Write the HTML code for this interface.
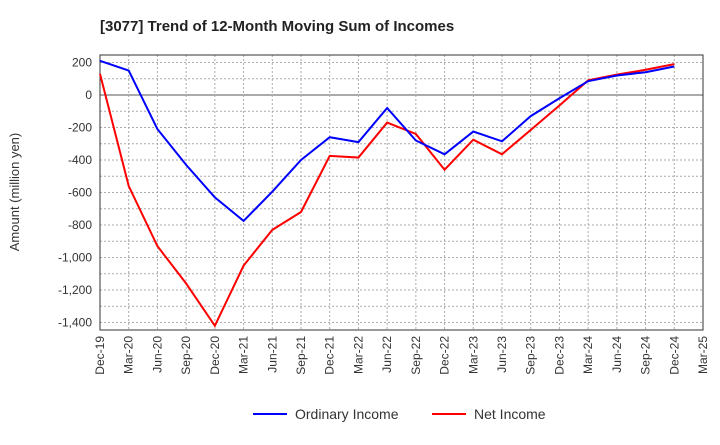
<!DOCTYPE html>
<html><head><meta charset="utf-8"><style>
body{margin:0;background:#fff;font-family:"Liberation Sans",sans-serif;}
</style></head><body>
<svg width="720" height="440" xmlns="http://www.w3.org/2000/svg" font-family="Liberation Sans, sans-serif">
<text x="100" y="31" font-size="15" font-weight="bold" fill="#222">[3077]  Trend of 12-Month Moving Sum of Incomes</text>
<g id="grid"></g>
<rect x="100" y="55" width="603" height="275" fill="none" stroke="#333" stroke-width="1"/>
<g id="axes"></g>
<g id="series"></g>
<text transform="translate(19,192) rotate(-90)" text-anchor="middle" font-size="13" fill="#333">Amount (million yen)</text>
<g>
<line x1="253" y1="414" x2="287" y2="414" stroke="#0000ff" stroke-width="2"/>
<text x="295" y="419" font-size="14" fill="#333">Ordinary Income</text>
<line x1="432" y1="414" x2="466" y2="414" stroke="#ff0000" stroke-width="2"/>
<text x="474" y="419" font-size="14" fill="#333">Net Income</text>
</g>
</svg>
<script>
const categories=["Dec-19","Mar-20","Jun-20","Sep-20","Dec-20","Mar-21","Jun-21","Sep-21","Dec-21","Mar-22","Jun-22","Sep-22","Dec-22","Mar-23","Jun-23","Sep-23","Dec-23","Mar-24","Jun-24","Sep-24","Dec-24","Mar-25"];
const ordinaryIncome=[210,150,-210,-430,-630,-775,-595,-400,-260,-290,-80,-280,-365,-225,-285,-130,-20,85,120,140,175];
const netIncome=[130,-560,-930,-1160,-1420,-1050,-830,-720,-375,-385,-170,-240,-460,-275,-365,-215,-65,90,125,155,190];
const yTicks=[200,0,-200,-400,-600,-800,-1000,-1200,-1400];
const NS="http://www.w3.org/2000/svg";
const L=100,R=703,T=55,B=330,yMax=246,yMin=-1446;
const x=i=>L+(R-L)*i/(categories.length-1);
const y=v=>T+(yMax-v)/(yMax-yMin)*(B-T);
function mk(tag,attrs,parent){const e=document.createElementNS(NS,tag);for(const k in attrs)e.setAttribute(k,attrs[k]);document.getElementById(parent).appendChild(e);return e;}
for(let v=200;v>=-1400;v-=100){
 const g=mk("line",{x1:L,x2:R,y1:y(v),y2:y(v),stroke:v===0?"#555":"#aaa","stroke-width":1,"stroke-dasharray":v===0?"":"2,2"},"grid");
 
 
}
categories.forEach((c,i)=>{
 const g=mk("line",{x1:x(i),x2:x(i),y1:T,y2:B,stroke:"#aaa","stroke-width":1,"stroke-dasharray":"2,2"},"grid");
 
 
 const t=mk("text",{transform:`translate(${x(i)+4},${B+6}) rotate(-90)`,"text-anchor":"end","font-size":12,fill:"#333"},"axes");
 t.textContent=c;
 
 
});
yTicks.forEach(v=>{
 const t=mk("text",{x:L-8,y:y(v)+4,"text-anchor":"end","font-size":12,fill:"#333"},"axes");
 t.textContent=v.toLocaleString("en-US");
 
 
});
function line(data,color,name){
 const p=mk("polyline",{points:data.map((v,i)=>x(i)+","+y(v)).join(" "),fill:"none",stroke:color,"stroke-width":2},"series");
 
 
}
line(netIncome,"#ff0000","net-income-line");
line(ordinaryIncome,"#0000ff","ordinary-income-line");
</script>
</body></html>
